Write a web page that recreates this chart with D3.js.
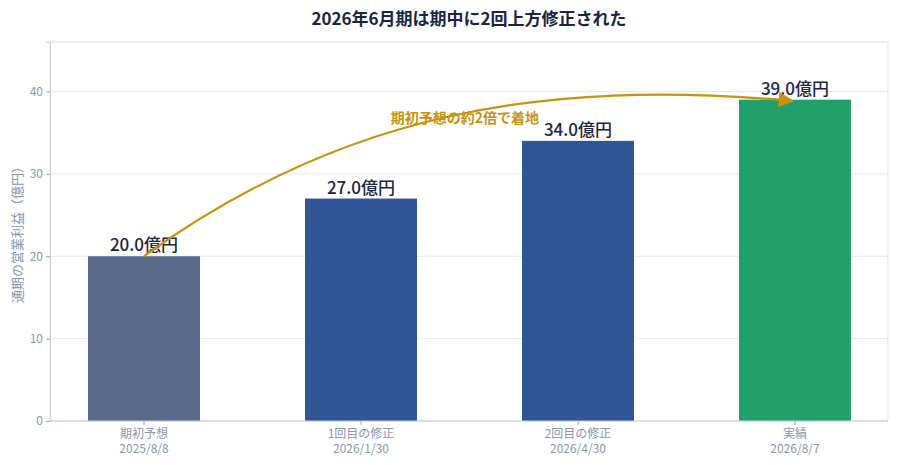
<!DOCTYPE html><html><head><meta charset="utf-8">
<script src="https://cdn.jsdelivr.net/npm/d3@7"></script>
<style>body{margin:0;background:#fff;font-family:"Noto Sans CJK JP","Noto Sans",sans-serif}</style></head><body>
<svg id="c" width="900" height="465"></svg>
<script>
const categories=["期初予想","1回目の修正","2回目の修正","実績"];
const dates=["2025/8/8","2026/1/30","2026/4/30","2026/8/7"];
const values=[20.0,27.0,34.0,39.0];
const colors=["#5a6a8a","#2f5596","#2f5596","#22a06b"];
const yTicks=[0,10,20,30,40];
const svg=d3.select("#c");
const L=50,R=888,T=42,B=421;
const x=d3.scaleBand().domain(categories).range([35.5,903.5]).paddingInner(0.484).paddingOuter(0.242);
const y=d3.scaleLinear().domain([0,46]).range([B,T]);
const font='"Noto Sans CJK JP",sans-serif';
svg.append("g").selectAll("line").data(yTicks.slice(1)).join("line")
 .attr("x1",L).attr("x2",R).attr("y1",d=>y(d)).attr("y2",d=>y(d)).attr("stroke","#e6e9f0");
svg.append("rect").attr("x",L).attr("y",T).attr("width",R-L).attr("height",B-T).attr("fill","none").attr("stroke","#dde1ea");
svg.append("g").selectAll("rect").data(values).join("rect")
 .attr("x",(d,i)=>x(categories[i])).attr("width",x.bandwidth()).attr("y",d=>y(d)).attr("height",d=>B-y(d)).attr("fill",(d,i)=>colors[i]);
svg.append("g").selectAll("text").data(values).join("text")
 .attr("x",(d,i)=>x(categories[i])+x.bandwidth()/2).attr("y",d=>y(d)-5).attr("text-anchor","middle")
 .attr("font-family",font).attr("font-size",17).attr("font-weight",500).attr("fill","#1b2445").text(d=>d.toFixed(1)+"億円");
const ya=svg.append("g").attr("transform",`translate(${L},0)`).call(d3.axisLeft(y).tickValues(yTicks).tickSize(4));
ya.select(".domain").attr("stroke","#c9cfdc");
ya.selectAll(".tick line").attr("stroke","#9aa3b8");
ya.selectAll("text").attr("font-family",font).attr("font-size",12).attr("fill","#8a94b0");
const xa=svg.append("g").attr("transform",`translate(0,${B})`).call(d3.axisBottom(x).tickSize(4).tickFormat(""));
xa.select(".domain").remove();
xa.selectAll(".tick line").attr("stroke","#9aa3b8");
svg.append("line").attr("x1",L).attr("x2",R).attr("y1",B).attr("y2",B).attr("stroke","#c9cfdc");
const xl=svg.append("g");
categories.forEach((c,i)=>{
 const cxp=x(c)+x.bandwidth()/2;
 xl.append("text").attr("x",cxp).attr("y",438).attr("text-anchor","middle").attr("font-family",font).attr("font-size",12).attr("fill","#8a94b0").text(c);
 xl.append("text").attr("x",cxp).attr("y",453).attr("text-anchor","middle").attr("font-family",font).attr("font-size",12).attr("fill","#8a94b0").text(dates[i]);
});
svg.append("text").attr("transform",`translate(22,${(T+B)/2}) rotate(-90)`).attr("text-anchor","middle")
 .attr("font-family",font).attr("font-size",13).attr("fill","#8a94b0").text("通期の営業利益（億円）");
svg.append("text").attr("x",469).attr("y",25).attr("text-anchor","middle").attr("font-family",font).attr("font-size",17).attr("font-weight",700).attr("fill","#1b2445").text("2026年6月期は期中に2回上方修正された");
const cx=i=>x(categories[i])+x.bandwidth()/2;
const sx=cx(0),sy=y(values[0]),ex=cx(3)-4,ey=y(values[3])+1;
svg.append("defs").append("marker").attr("id","ah").attr("viewBox","0 0 10 10").attr("refX",8).attr("refY",5)
 .attr("markerWidth",7).attr("markerHeight",7).attr("orient","auto").append("path").attr("d","M0,0L10,5L0,10Z").attr("fill","#c8920f");
svg.append("path").attr("d",`M${sx},${sy}C${sx+200},${y(37.5)} ${sx+400},${y(41.5)} ${ex},${ey}`)
 .attr("fill","none").attr("stroke","#c8920f").attr("stroke-width",2.2).attr("marker-end","url(#ah)");
svg.append("text").attr("x",465).attr("y",123).attr("text-anchor","middle").attr("font-family",font).attr("font-size",14).attr("font-weight",700).attr("fill","#c8920f").text("期初予想の約2倍で着地");
</script></body></html>
